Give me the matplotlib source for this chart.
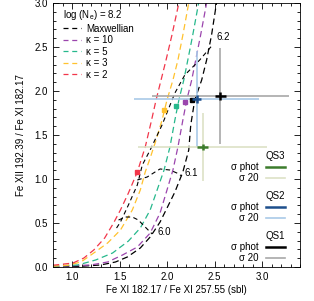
import matplotlib
matplotlib.use('Agg')
import matplotlib.pyplot as plt
from matplotlib.lines import Line2D
from matplotlib.ticker import MultipleLocator

plt.rcParams['font.family'] = ['Liberation Sans', 'DejaVu Sans']
plt.rcParams['mathtext.default'] = 'regular'

# kappa curves (x = Fe XI 182.17/257.55, y = Fe XII 192.39/Fe XI 182.17)
kappa_labels = ['Maxwellian', 'κ = 10', 'κ = 5', 'κ = 3', 'κ = 2']
kappa_colors = ['black', '#9b45ad', '#26b88c', '#ffc22e', '#f2364a']

maxw_x = [0.80, 1.094, 1.302, 1.458, 1.583, 1.719, 1.823, 1.927, 2.0, 2.083, 2.167, 2.229, 2.250, 2.292, 2.365, 2.417, 2.469, 2.521]
maxw_y = [0.003, 0.008, 0.023, 0.057, 0.114, 0.216, 0.341, 0.511, 0.670, 0.852, 1.080, 1.330, 1.614, 1.898, 2.125, 2.352, 2.636, 3.0]
k10_x = [0.80, 1.198, 1.375, 1.531, 1.6875, 1.823, 1.927, 2.0, 2.0625, 2.115, 2.167, 2.208, 2.260, 2.302, 2.354, 2.417]
k10_y = [0.005, 0.023, 0.057, 0.136, 0.227, 0.386, 0.614, 0.875, 1.102, 1.364, 1.670, 1.898, 2.125, 2.352, 2.636, 3.0]
k5_x = [0.80, 1.0625, 1.25, 1.427, 1.594, 1.719, 1.823, 1.896, 1.969, 2.031, 2.083, 2.125, 2.177, 2.219, 2.271, 2.333]
k5_y = [0.008, 0.023, 0.080, 0.159, 0.295, 0.443, 0.648, 0.875, 1.102, 1.364, 1.670, 1.898, 2.125, 2.352, 2.636, 3.0]
k3_x = [0.80, 0.958, 1.094, 1.229, 1.375, 1.510, 1.635, 1.719, 1.771, 1.823, 1.885, 1.948, 2.0, 2.0625, 2.115, 2.167, 2.229]
k3_y = [0.01, 0.02, 0.057, 0.159, 0.273, 0.420, 0.648, 0.875, 1.080, 1.239, 1.443, 1.670, 1.898, 2.125, 2.352, 2.636, 3.0]
k2_x = [0.80, 1.010, 1.125, 1.229, 1.344, 1.4375, 1.510, 1.594, 1.6875, 1.771, 1.833, 1.885, 1.9375, 1.990, 2.052, 2.125]
k2_y = [0.02, 0.045, 0.102, 0.193, 0.330, 0.5, 0.648, 0.841, 1.080, 1.364, 1.648, 1.898, 2.125, 2.352, 2.636, 3.0]

# isotherms, log T
iso_labels = ['6.0', '6.1', '6.2']
iso60_x = [1.490, 1.5625, 1.635, 1.698, 1.75, 1.802, 1.844]
iso60_y = [0.534, 0.568, 0.568, 0.534, 0.477, 0.420, 0.375]
iso61_x = [1.6875, 1.792, 1.875, 1.927, 2.031, 2.104, 2.156]
iso61_y = [0.989, 1.023, 1.080, 1.114, 1.102, 1.068, 1.034]
iso62_x = [1.469, 1.510, 1.594, 1.6875, 1.740, 1.823, 1.948, 2.083, 2.1875, 2.344, 2.479]
iso62_y = [0.443, 0.511, 0.705, 0.932, 1.159, 1.330, 1.614, 1.977, 2.182, 2.352, 2.523]
iso_label_x = [1.896, 2.1875, 2.52]
iso_label_y = [0.398, 1.068, 2.614]

# best points on each curve
sq_x = [2.26, 2.1875, 2.094, 1.969, 1.6875]
sq_y = [1.90, 1.878, 1.83, 1.784, 1.08]

# observations
qs_names = ['QS1', 'QS2', 'QS3']
qs_x = [2.5625, 2.3125, 2.375]
qs_y = [1.943, 1.909, 1.364]
qs_xerr20 = [0.72, 0.66, 0.677]
qs_yerr20 = [0.55, 0.54, 0.39]
qs_xerrph = [0.0625, 0.05, 0.055]
qs_yerrph = [0.05, 0.045, 0.03]
qs_col_ph = ['black', '#1d4f8c', '#3c7c2c']
qs_col_20 = ['#a8a8a8', '#a9c9e8', '#dde2c6']

fig = plt.figure(figsize=(3.14, 3.01), dpi=100)
ax = fig.add_axes([53/314, 34/301, 247/314, 264/301])

dash = (0, (5, 3))
curves = [(maxw_x, maxw_y), (k10_x, k10_y), (k5_x, k5_y), (k3_x, k3_y), (k2_x, k2_y)]
for (cx, cy), c in zip(curves, kappa_colors):
    ax.plot(cx, cy, color=c, lw=0.9, ls=dash, zorder=2)

for ix, iy in [(iso60_x, iso60_y), (iso61_x, iso61_y), (iso62_x, iso62_y)]:
    ax.plot(ix, iy, color='black', lw=0.8, ls=(0, (4, 3)), zorder=2)
for lab, lx, ly in zip(iso_labels, iso_label_x, iso_label_y):
    ax.text(lx, ly, lab, fontsize=7, va='center', ha='left')

for i in range(3):
    ax.errorbar(qs_x[i], qs_y[i], xerr=qs_xerr20[i], yerr=qs_yerr20[i], fmt='none',
                ecolor=qs_col_20[i], elinewidth=1.2, capsize=0, zorder=3)
for i in range(5):
    ax.plot(sq_x[i], sq_y[i], 's', color=kappa_colors[i], ms=3, zorder=4)
for i in range(3):
    ax.errorbar(qs_x[i], qs_y[i], xerr=qs_xerrph[i], yerr=qs_yerrph[i], fmt='none',
                ecolor=qs_col_ph[i], elinewidth=1.8, capsize=0, zorder=5)

ax.set_xlim(0.8, 3.4)
ax.set_ylim(0, 3)
ax.xaxis.set_major_locator(MultipleLocator(0.5))
ax.xaxis.set_minor_locator(MultipleLocator(0.1))
ax.yaxis.set_major_locator(MultipleLocator(0.5))
ax.yaxis.set_minor_locator(MultipleLocator(0.1))
ax.tick_params(which='both', direction='in', top=True, right=True, labelsize=7, width=0.6)
ax.tick_params(which='major', length=4)
ax.tick_params(which='minor', length=2)
for s in ax.spines.values():
    s.set_linewidth(0.6)
ax.set_xlabel('Fe XI 182.17 / Fe XI 257.55 (sbl)', fontsize=7, labelpad=2)
ax.set_ylabel('Fe XII 192.39 / Fe XI 182.17', fontsize=7, labelpad=6)

handles = [Line2D([], [], color=c, lw=0.9, ls=(0, (4, 3))) for c in kappa_colors]
leg = ax.legend(handles, kappa_labels, title='log (N$_e$) = 8.2', loc='upper left',
                bbox_to_anchor=(0.04, 0.98), frameon=False, fontsize=7, title_fontsize=7,
                handlelength=1.9, handletextpad=0.5, labelspacing=0.15, borderpad=0,
                borderaxespad=0, alignment='left')
ax.add_artist(leg)

qs_tops = [0.136, 0.288, 0.439]
for i in range(3):
    hs = [Line2D([], [], color=qs_col_ph[i], lw=1.8), Line2D([], [], color=qs_col_20[i], lw=1.2)]
    lg = ax.legend(hs, ['σ phot', 'σ 20'], title=qs_names[i], loc='upper right',
                   bbox_to_anchor=(0.94, qs_tops[i]), frameon=False, fontsize=7,
                   title_fontsize=7, handlelength=2.0, handletextpad=0.7, labelspacing=0.1,
                   borderpad=0, borderaxespad=0, markerfirst=False, alignment='right')
    if i < 2:
        ax.add_artist(lg)

fig.savefig('out.png', dpi=100)
